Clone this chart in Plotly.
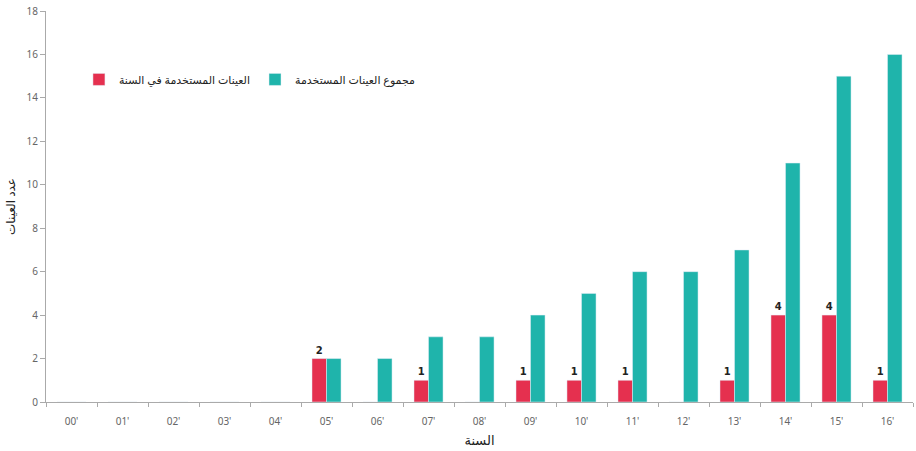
import plotly.graph_objects as go

years = ["00'", "01'", "02'", "03'", "04'", "05'", "06'", "07'", "08'",
         "09'", "10'", "11'", "12'", "13'", "14'", "15'", "16'"]
per_year = [0, 0, 0, 0, 0, 2, 0, 1, 0, 1, 1, 1, 0, 1, 4, 4, 1]
cumulative = [0, 0, 0, 0, 0, 2, 2, 3, 3, 4, 5, 6, 6, 7, 11, 15, 16]

name_year = "العينات المستخدمة في السنة"
name_total = "مجموع العينات المستخدمة"
x_title = "السنة"
y_title = "عدد العينات"

RED = "#E5304F"
TEAL = "#1FB4AB"
FONT = "Noto Sans, DejaVu Sans, sans-serif"

fig = go.Figure()
fig.add_trace(go.Bar(
    x=years, y=per_year, name=name_year, marker_color=RED,
    text=[str(v) if v else "" for v in per_year], textposition="outside",
    textfont=dict(size=10, color="#222", family="DejaVu Sans"),
    texttemplate="<b>%{text}</b>", cliponaxis=False,
))
fig.add_trace(go.Bar(
    x=years, y=cumulative, name=name_total, marker_color=TEAL,
))

fig.update_layout(
    width=916, height=451,
    margin=dict(l=46, r=3, t=8, b=49),
    paper_bgcolor="white", plot_bgcolor="white",
    barmode="group", bargap=0.43, bargroupgap=0,
    font=dict(family=FONT, color="#555", size=10),
    showlegend=True,
    legend=dict(orientation="h", x=0.038, y=0.825, xanchor="left", yanchor="middle",
                font=dict(size=11, color="#222"), bgcolor="rgba(255,255,255,0.9)",
                itemwidth=30, traceorder="normal"),
    xaxis=dict(
        showline=True, linecolor="#aaa", linewidth=1, ticks="outside",
        tickson="boundaries", ticklen=4, tickcolor="#aaa", showgrid=False,
        tickfont=dict(size=10, color="#666"), ticklabelstandoff=10,
        title=dict(text=x_title, font=dict(size=13, color="#222"), standoff=8),
    ),
    yaxis=dict(
        range=[0, 18], dtick=2, showline=True, linecolor="#aaa", linewidth=1,
        ticks="outside", ticklen=5, tickcolor="#aaa", showgrid=False,
        zeroline=False, tickfont=dict(size=10, color="#666"),
        title=dict(text=y_title, font=dict(size=12, color="#222"), standoff=8),
    ),
)

fig.write_html("out.html")
